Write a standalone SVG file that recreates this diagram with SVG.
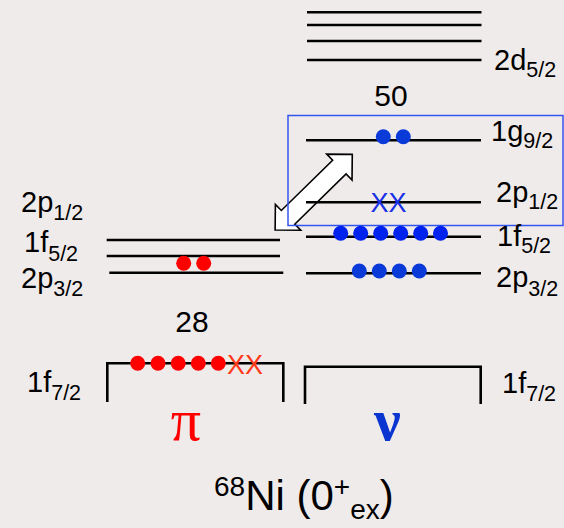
<svg xmlns="http://www.w3.org/2000/svg" width="564" height="528" viewBox="0 0 564 528">
  <style>
    .lvl { stroke: #000; stroke-width: 2.6; fill: none; }
    .lab { font-family: "Liberation Sans", Arial, sans-serif; font-size: 29px; fill: #000; }
    .sub { font-size: 21.5px; }
    .magic { font-family: "Liberation Sans", Arial, sans-serif; font-size: 30px; fill: #000; text-anchor: middle; }
    .red { fill: #ff0000; }
    .blue { fill: #0a3ad8; }
    .blue2 { fill: #0022ee; }
    .xx { font-family: "Liberation Sans", Arial, sans-serif; font-size: 27px; text-anchor: middle; }
  </style>
  <rect x="0" y="0" width="564" height="528" fill="#f0ebeb"/>

  <g id="connectors">
    <polygon points="54,0 35.9,-18.1 35.9,-9.6 -35.9,-9.6 -35.9,-18.1 -54,0 -35.9,18.1 -35.9,9.6 35.9,9.6 35.9,18.1"
      transform="translate(313.7,192.2) rotate(-44.4)" fill="#ffffff" stroke="#000" stroke-width="1.6" stroke-linejoin="miter"/>
  </g>

  <g id="excitation-box">
    <rect x="288" y="115.5" width="275" height="110" fill="none" stroke="#3355ee" stroke-width="1.5"/>
  </g>

  <g id="neutron-upper">
    <line class="lvl" x1="307" y1="12.3" x2="481.5" y2="12.3"/>
    <line class="lvl" x1="307" y1="25" x2="481.5" y2="25"/>
    <line class="lvl" x1="307" y1="41" x2="481.5" y2="41"/>
    <line class="lvl" x1="307" y1="60" x2="481.5" y2="60"/>
    <text class="lab" x="494" y="70">2d<tspan class="sub" dy="7">5/2</tspan></text>
  </g>

  <g id="magic-50">
    <text class="magic" x="391" y="106">50</text>
  </g>

  <g id="neutron-1g92">
    <line class="lvl" x1="306" y1="140.3" x2="481" y2="140.3"/>
    <circle class="blue" cx="383.3" cy="136.7" r="7.5"/>
    <circle class="blue" cx="403.3" cy="136.7" r="7.5"/>
    <text class="lab" x="491" y="141">1g<tspan class="sub" dy="7">9/2</tspan></text>
  </g>

  <g id="neutron-2p12">
    <line class="lvl" x1="306" y1="202.3" x2="481" y2="202.3"/>
    <text class="xx" x="388.5" y="211.5" fill="#1a30e6">XX</text>
    <text class="lab" x="496" y="202">2p<tspan class="sub" dy="7">1/2</tspan></text>
  </g>

  <g id="neutron-1f52">
    <line class="lvl" x1="306" y1="236.7" x2="481" y2="236.7"/>
    <circle class="blue2" cx="340.7" cy="233.3" r="7.5"/>
    <circle class="blue2" cx="360.7" cy="233.3" r="7.5"/>
    <circle class="blue2" cx="380.7" cy="233.3" r="7.5"/>
    <circle class="blue2" cx="400.7" cy="233.3" r="7.5"/>
    <circle class="blue2" cx="420.7" cy="233.3" r="7.5"/>
    <circle class="blue2" cx="440.5" cy="233.3" r="7.5"/>
    <text class="lab" x="497" y="246">1f<tspan class="sub" dy="7">5/2</tspan></text>
  </g>

  <g id="neutron-2p32">
    <line class="lvl" x1="306" y1="273.3" x2="481" y2="273.3"/>
    <circle class="blue" cx="359.3" cy="271" r="7.5"/>
    <circle class="blue" cx="379.3" cy="271" r="7.5"/>
    <circle class="blue" cx="399.3" cy="271" r="7.5"/>
    <circle class="blue" cx="419.3" cy="271" r="7.5"/>
    <text class="lab" x="496" y="287">2p<tspan class="sub" dy="9">3/2</tspan></text>
  </g>

  <g id="neutron-1f72">
    <polyline class="lvl" points="305,404 305,366.7 480.7,366.7 480.7,404"/>
    <text class="lab" x="502" y="393">1f<tspan class="sub" dy="8">7/2</tspan></text>
  </g>

  <g id="proton-upper">
    <line class="lvl" x1="106.7" y1="240" x2="280" y2="240"/>
    <line class="lvl" x1="106.7" y1="256" x2="280" y2="256"/>
    <line class="lvl" x1="109.3" y1="272.7" x2="283.3" y2="272.7"/>
    <circle class="red" cx="183.7" cy="263.3" r="7.5"/>
    <circle class="red" cx="203.7" cy="263.3" r="7.5"/>
    <text class="lab" x="21" y="212">2p<tspan class="sub" dy="8">1/2</tspan></text>
    <text class="lab" x="24" y="252">1f<tspan class="sub" dy="9">5/2</tspan></text>
    <text class="lab" x="21" y="288">2p<tspan class="sub" dy="8">3/2</tspan></text>
  </g>

  <g id="magic-28">
    <text class="magic" x="192" y="332">28</text>
  </g>

  <g id="proton-1f72">
    <polyline class="lvl" points="107.3,402 107.3,363.3 283.3,363.3 283.3,402"/>
    <circle class="red" cx="137.7" cy="363.3" r="7.5"/>
    <circle class="red" cx="158" cy="363.3" r="7.5"/>
    <circle class="red" cx="178.2" cy="363.3" r="7.5"/>
    <circle class="red" cx="198.3" cy="363.3" r="7.5"/>
    <circle class="red" cx="218.3" cy="363.3" r="7.5"/>
    <text class="xx" x="245" y="374" fill="#ff3b1a">XX</text>
    <text class="lab" x="27" y="392">1f<tspan class="sub" dy="8">7/2</tspan></text>
  </g>

  <g id="proton-symbol">
    <text x="186" y="440" font-family="'Liberation Serif', 'Times New Roman', serif" font-size="60" fill="#ff0000" text-anchor="middle">π</text>
  </g>
  <g id="neutron-symbol">
    <text x="387.5" y="440" font-family="'Liberation Serif', 'Times New Roman', serif" font-size="60" font-weight="bold" fill="#0a35d0" text-anchor="middle">ν</text>
  </g>

  <g id="title">
    <text x="214" y="510" font-family="Liberation Sans, Arial, sans-serif" font-size="42" fill="#000"><tspan font-size="28" dy="-14">68</tspan><tspan dy="14">Ni (0</tspan><tspan font-size="28" dy="-14">+</tspan><tspan font-size="28" dy="23">ex</tspan><tspan dy="-9">)</tspan></text>
  </g>
</svg>
